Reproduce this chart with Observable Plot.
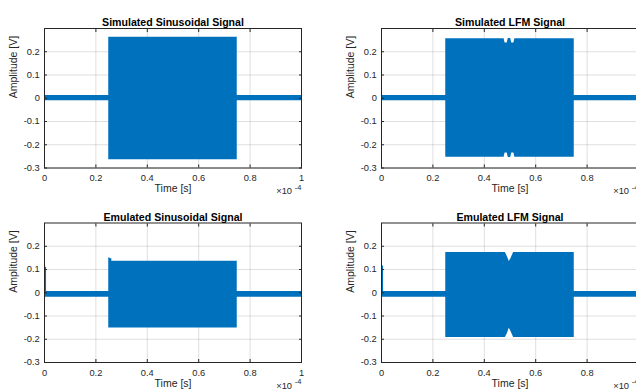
<!DOCTYPE html>
<html>
<head>
<meta charset="utf-8">
<script src="https://cdn.jsdelivr.net/npm/d3@7"></script>
<script src="https://cdn.jsdelivr.net/npm/@observablehq/plot@0.6"></script>
<style>
  html, body { margin: 0; padding: 0; background: #fff; overflow: hidden; }
  #chart { position: relative; width: 636px; height: 392px; overflow: hidden; background: #fff; }
  #chart svg { position: absolute; }
</style>
</head>
<body>
<div id="chart"></div>
<script>
// Time values are in units of 1e-4 s (the axis shows "×10^-4")
const xTicks = [0, 0.2, 0.4, 0.6, 0.8, 1];
const yTicks = [-0.3, -0.2, -0.1, 0, 0.1, 0.2];
const titles = ["Simulated Sinusoidal Signal", "Simulated LFM Signal", "Emulated Sinusoidal Signal", "Emulated LFM Signal"];
const xLabel = "Time [s]";
const yLabel = "Amplitude [V]";

// Envelope (upper / lower extent) of each densely oscillating signal
const sinSimT  = [0, 0.25, 0.25, 0.75, 0.75, 1];
const sinSimHi = [0.012, 0.012, 0.262, 0.262, 0.012, 0.012];
const sinSimLo = [-0.011, -0.011, -0.264, -0.264, -0.011, -0.011];

const lfmSimT  = [0, 0.25, 0.25, 0.477, 0.481, 0.489, 0.493, 0.498, 0.503, 0.507, 0.515, 0.519, 0.75, 0.75, 1];
const lfmSimHi = [0.012, 0.012, 0.256, 0.256, 0.238, 0.238, 0.256, 0.258, 0.256, 0.238, 0.238, 0.256, 0.256, 0.012, 0.012];
const lfmSimLo = [-0.011, -0.011, -0.254, -0.254, -0.235, -0.235, -0.254, -0.256, -0.254, -0.235, -0.235, -0.254, -0.254, -0.011, -0.011];

const sinEmuT  = [0, 0.008, 0.008, 0.25, 0.25, 0.262, 0.262, 0.75, 0.75, 1];
const sinEmuHi = [0.11, 0.11, 0.005, 0.005, 0.151, 0.145, 0.135, 0.135, 0.005, 0.005];
const sinEmuLo = [-0.019, -0.019, -0.019, -0.019, -0.152, -0.152, -0.152, -0.152, -0.019, -0.019];

const lfmEmuT  = [0, 0.008, 0.008, 0.25, 0.25, 0.482, 0.49, 0.497, 0.503, 0.514, 0.75, 0.75, 1];
const lfmEmuHi = [0.115, 0.115, 0.005, 0.005, 0.173, 0.173, 0.155, 0.134, 0.145, 0.173, 0.173, 0.005, 0.005];
const lfmEmuLo = [-0.019, -0.019, -0.019, -0.019, -0.193, -0.193, -0.175, -0.153, -0.165, -0.193, -0.193, -0.019, -0.019];

const FONT = "'Liberation Sans', Arial, Helvetica, sans-serif";
const AX = "#262626";
const fmt = d => String(+d.toFixed(1));

function table(t, hi, lo) { return t.map((v, i) => ({t: v, hi: hi[i], lo: lo[i]})); }

function panel(title, t, hi, lo, left, top, marginLeft, marginTop) {
  const innerW = 257, innerH = 139.5, H = 196;
  const svg = Plot.plot({
    width: marginLeft + innerW + 17,
    height: H,
    marginLeft, marginRight: 17,
    marginTop, marginBottom: H - marginTop - innerH,
    x: {domain: [0, 1]},
    y: {domain: [-0.3, 0.3]},
    style: {fontFamily: FONT, fontSize: "9.3px", color: AX, overflow: "visible", background: "transparent"},
    marks: [
      Plot.gridX(xTicks, {stroke: AX, strokeOpacity: 0.15}),
      Plot.gridY(yTicks, {stroke: AX, strokeOpacity: 0.15}),
      Plot.areaY(table(t, hi, lo), {x: "t", y1: "lo", y2: "hi", fill: "#0072BD"}),
      Plot.frame({stroke: AX}),
      Plot.axisX(xTicks, {tickSize: -3, tickPadding: 9.5, tickFormat: fmt, label: null, stroke: AX}),
      Plot.axisX(xTicks, {anchor: "top", tickSize: -3, tickFormat: () => "", label: null, stroke: AX}),
      Plot.axisY(yTicks, {tickSize: -3, tickPadding: 7.7, tickFormat: fmt, label: null, stroke: AX}),
      Plot.axisY(yTicks, {anchor: "right", tickSize: -3, tickFormat: () => "", label: null, stroke: AX}),
      Plot.text([title], {frameAnchor: "top", dy: -10, fontWeight: "bold", fontSize: 10.6, fill: "#000"}),
      Plot.text([xLabel], {frameAnchor: "bottom", dy: 24, fontSize: 10.5, fill: AX}),
      Plot.text([yLabel], {frameAnchor: "left", dx: -31, rotate: -90, fontSize: 10.5, fill: AX}),
      Plot.text(["×10"], {frameAnchor: "bottom-right", dx: -9.5, dy: 26, textAnchor: "end", fontSize: 9.3, fill: AX}),
      Plot.text(["-4"], {frameAnchor: "bottom-right", dx: 0, dy: 21.5, textAnchor: "end", fontSize: 7.5, fill: AX})
    ]
  });
  svg.style.left = left + "px";
  svg.style.top = top + "px";
  return svg;
}

const chart = document.getElementById("chart");
chart.append(
  panel(titles[0], sinSimT, sinSimHi, sinSimLo, 0, 0, 44, 28),
  panel(titles[1], lfmSimT, lfmSimHi, lfmSimLo, 318, 0, 63, 28),
  panel(titles[2], sinEmuT, sinEmuHi, sinEmuLo, 0, 196, 44, 26.5),
  panel(titles[3], lfmEmuT, lfmEmuHi, lfmEmuLo, 318, 196, 63, 26.5)
);
</script>
</body>
</html>
